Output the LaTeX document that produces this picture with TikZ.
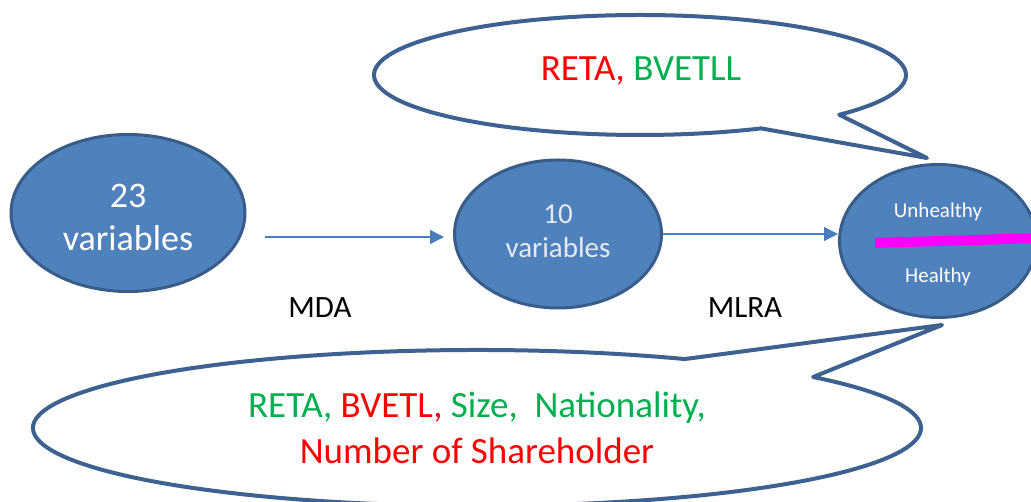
\documentclass[tikz,border=0pt]{standalone}
\usepackage{fontspec}
\setmainfont{Carlito}
\usetikzlibrary{arrows.meta,shapes.geometric,calc}

\definecolor{fillblue}{HTML}{4F81BD}
\definecolor{edgeblue}{HTML}{385D8A}
\definecolor{arrowblue}{HTML}{4A7EBB}
\definecolor{bubbleedge}{HTML}{3D6190}
\definecolor{okgreen}{HTML}{00B050}
\definecolor{alertred}{HTML}{FF0000}
\definecolor{splitmag}{HTML}{FF00FF}
\definecolor{softwhite}{HTML}{E4EAF2}

\begin{document}
\begin{tikzpicture}[x=1pt,y=1pt,
  blob/.style={ellipse, draw=edgeblue, fill=fillblue, line width=3pt,
    inner sep=0pt, align=center},
  flow/.style={draw=arrowblue, line width=1.3pt,
    -{Triangle[length=14pt,width=14pt]}},
  bubble/.style={draw=bubbleedge, line width=4pt, fill=white, line join=round},
  steplabel/.style={font=\fontsize{31}{37}\selectfont, anchor=base},
  bubbletext/.style={font=\fontsize{37}{44}\selectfont, anchor=base},
  classtext/.style={font=\fontsize{21}{25}\selectfont, text=white, anchor=base},
  splitline/.style={draw=splitmag, line width=10pt}
]
\frenchspacing
\useasboundingbox (0,0) rectangle (1031,502);
\fill[white] (0,0) rectangle (1031,502);

% upper speech bubble
\coordinate (topc) at (640,427);
\coordinate (topjoin) at ($(topc)+(-62.9:266 and 60)$);
\coordinate (topnotch) at ($(topc)+(-41.5:266 and 60)$);
\coordinate (toptip) at (927,344);
\draw[bubble] (topjoin) -- (toptip) -- (topnotch)
  arc[start angle=-41.5, end angle=297.1, x radius=266pt, y radius=60pt] -- cycle;
\node[bubbletext] (toptext) at (641,421)
  {\textcolor{alertred}{RETA,} \textcolor{okgreen}{BVETLL}};

% lower speech bubble
\coordinate (botc) at (477,74);
\coordinate (botjoin) at ($(botc)+(62.1:444 and 78)$);
\coordinate (botnotch) at ($(botc)+(40.8:444 and 78)$);
\coordinate (bottip) at (942,177);
\draw[bubble] (botjoin)
  arc[start angle=62.1, end angle=400.8, x radius=444pt, y radius=78pt]
  -- (bottip) -- cycle;
\node[bubbletext] (botline1) at (477,84)
  {\textcolor{okgreen}{RETA,} \textcolor{alertred}{BVETL,} \textcolor{okgreen}{Size,\ \ Nationality,}};
\node[bubbletext, text=alertred] (botline2) at (477,38) {Number of Shareholder};

% stages
\node[blob, minimum width=234pt, minimum height=157pt, text=white,
  font=\fontsize{36}{43}\selectfont] (e1) at (128,289)
  {\rule{0pt}{33pt}23\\variables};
\node[blob, minimum width=207pt, minimum height=148pt, text=softwhite,
  font=\fontsize{29}{34}\selectfont] (e2) at (558,268)
  {10\\variables\rule[-5pt]{0pt}{5pt}};
\node[blob, minimum width=197pt, minimum height=153pt] (e3) at (938,261) {};

\draw[splitline] (875,259) -- (1040,264);
\node[classtext] (unhealthy) at (938,284) {Unhealthy};
\node[classtext] (healthy) at (938,219) {Healthy};

% connectors
\coordinate (mdastart) at (265,265);
\draw[flow, shorten >=9pt] (mdastart) -- (mdastart -| e2.west);
\draw[flow] (e2.east) -- (e2.east -| e3.west);

\node[steplabel] (mda) at (320,184) {MDA};
\node[steplabel] (mlra) at (745,184) {MLRA};
\end{tikzpicture}
\end{document}
